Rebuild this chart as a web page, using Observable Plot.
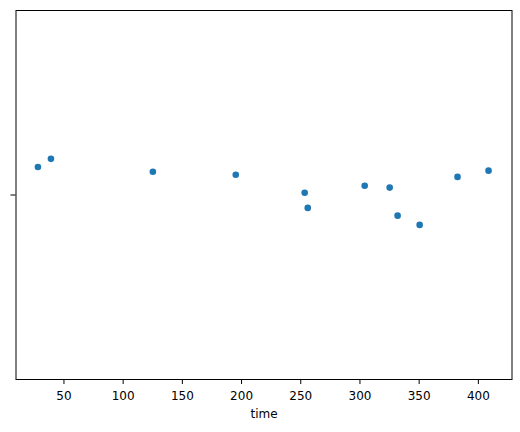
<!DOCTYPE html>
<html>
<head>
<meta charset="utf-8">
<script src="https://cdn.jsdelivr.net/npm/d3@7"></script>
<script src="https://cdn.jsdelivr.net/npm/@observablehq/plot@0.6"></script>
<style>
  html, body { margin: 0; padding: 0; background: #fff; }
</style>
</head>
<body>
<div id="chart"></div>
<script>
const time = [28.0, 39.0, 125.1, 195.1, 253.3, 255.9, 304.0, 325.1, 331.8, 350.4, 382.4, 408.6];
const jitter = [-0.076, -0.098, -0.063, -0.055, -0.006, 0.035, -0.025, -0.020, 0.056, 0.081, -0.049, -0.066];
const xTicks = [50, 100, 150, 200, 250, 300, 350, 400];
const yTicks = [0];

const data = time.map((t, i) => ({time: t, y: jitter[i]}));

const chart = Plot.plot({
  width: 520,
  height: 432,
  marginLeft: 15.5,
  marginRight: 8.5,
  marginTop: 10,
  marginBottom: 53,
  style: {fontFamily: "DejaVu Sans", fontSize: "12px", color: "#000", background: "#fff"},
  x: {domain: [9.5, 428.4]},
  y: {domain: [-0.5, 0.5], reverse: true},
  marks: [
    Plot.axisX({ticks: xTicks, tickSize: 5, tickPadding: 7, fontSize: 12, label: null}),
    Plot.text(["time"], {frameAnchor: "bottom", dy: 38, fontSize: 12, fill: "#000"}),
    Plot.axisY({ticks: yTicks, tickSize: 5, tickFormat: () => "", label: null}),
    Plot.dot(data, {x: "time", y: "y", r: 3.3, fill: "#1f77b4", stroke: "none"}),
    Plot.frame({stroke: "#000", strokeWidth: 1})
  ]
});
document.getElementById("chart").appendChild(chart);
</script>
</body>
</html>
